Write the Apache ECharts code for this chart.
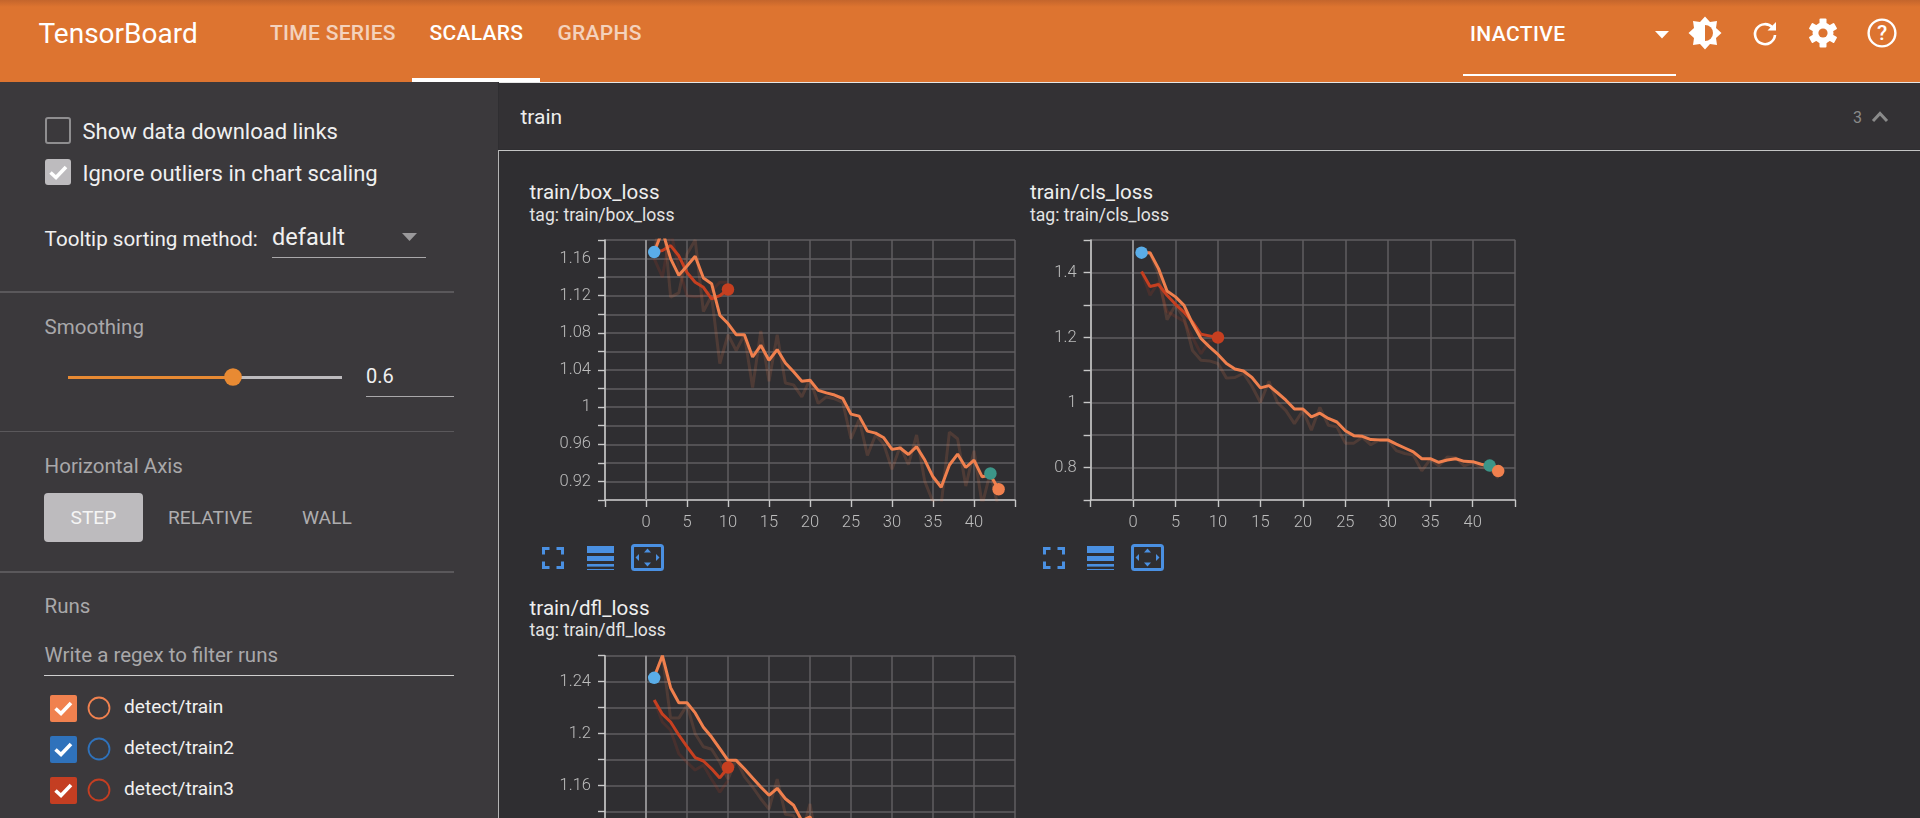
<!DOCTYPE html>
<html>
<head>
<meta charset="utf-8">
<title>TensorBoard</title>
<script src="https://cdn.jsdelivr.net/npm/echarts@6/dist/echarts.min.js"></script>
<style>
  html, body { margin: 0; width: 1920px; height: 818px; overflow: hidden; background: #2f2e31; font-family: Roboto, sans-serif; color: #fff; }
  .abs { position: absolute; white-space: nowrap; transform: translateY(-50%); }
  .box { position: absolute; }
  .box svg { display: block; }
  #header { position: absolute; left: 0; top: 0; width: 1920px; height: 82px; background: linear-gradient(#c4652c 0, #dd7430 7px); }
  #sidebar { position: absolute; left: 0; top: 82px; width: 498px; height: 736px; background: #3b393c; }
  #panelHead { position: absolute; left: 499px; top: 83px; width: 1421px; height: 66px; background: #333134; }
  #chart { position: absolute; left: 0; top: 0; width: 1920px; height: 818px; }
  .nav { font-size: 21px; font-weight: 500; letter-spacing: 0.3px; }
  .muted { color: #a9a8aa; font-size: 20.5px; }
  .sideText { color: #f0f0f0; font-size: 22px; }
  .chartTitle { font-size: 20.6px; color: #eeeeee; font-weight: 400; }
  .chartTag { font-size: 17.6px; color: #e4e4e4; }
</style>
</head>
<body>
<div id="header"></div>
<div id="sidebar"></div>
<div id="panelHead"></div>
<div id="chrome"></div>
<div id="chart"></div>

<script>
// x axis
const xTickLabels = [0, 5, 10, 15, 20, 25, 30, 35, 40];

// train/box_loss
const boxYLabels = [0.92, 0.96, 1, 1.04, 1.08, 1.12, 1.16];
const boxTrain = [1.167, 1.19, 1.16, 1.142, 1.152, 1.1625, 1.139, 1.133, 1.099, 1.09, 1.078, 1.078, 1.054, 1.0666, 1.0505, 1.062, 1.0476, 1.038, 1.028, 1.029, 1.018, 1.0154, 1.013, 1.0093, 0.9925, 0.9903, 0.9742, 0.972, 0.967, 0.9545, 0.956, 0.949, 0.9574, 0.943, 0.925, 0.9137, 0.9377, 0.9495, 0.935, 0.943, 0.925, 0.927, 0.9116];
const boxTrainRaw = [1.167, 1.215, 1.1185, 1.123, 1.165, 1.18, 1.103, 1.12, 1.047, 1.078, 1.061, 1.078, 1.021, 1.082, 1.028, 1.078, 1.026, 1.024, 1.011, 1.03, 1.004, 1.011, 1.009, 1.005, 0.966, 0.987, 0.948, 0.97, 0.96, 0.933, 0.958, 0.938, 0.97, 0.92, 0.898, 0.895, 0.973, 0.966, 0.915, 0.953, 0.895, 0.93, 0.89];
const boxTrain3 = [1.167, 1.1686, 1.174, 1.163, 1.145, 1.1346, 1.129, 1.1167, 1.12, 1.1267];
const boxTrain3Raw = [1.16, 1.14, 1.19, 1.15, 1.12, 1.119, 1.12, 1.125, 1.1346, 1.1346];
const boxTrain2End = 1.167;
const boxTealEnd = 0.9285;

// train/cls_loss
const clsYLabels = [0.8, 1, 1.2, 1.4];
const clsTrain = [1.461, 1.461, 1.412, 1.343, 1.325, 1.299, 1.243, 1.197, 1.171, 1.148, 1.12, 1.103, 1.097, 1.077, 1.045, 1.052, 1.03, 1.007, 0.98, 0.98, 0.956, 0.967, 0.951, 0.94, 0.913, 0.898, 0.896, 0.886, 0.885, 0.885, 0.872, 0.86, 0.848, 0.827, 0.827, 0.816, 0.823, 0.827, 0.819, 0.818, 0.81, 0.804, 0.789];
const clsTrainRaw = [1.461, 1.46, 1.395, 1.255, 1.3, 1.26, 1.16, 1.13, 1.128, 1.12, 1.075, 1.077, 1.09, 1.05, 1.0, 1.065, 1.0, 0.975, 0.935, 0.975, 0.915, 0.985, 0.93, 0.925, 0.875, 0.875, 0.893, 0.87, 0.885, 0.885, 0.852, 0.843, 0.838, 0.79, 0.825, 0.805, 0.832, 0.83, 0.805, 0.815, 0.8, 0.796, 0.768];
const clsTrain3 = [1.403, 1.357, 1.363, 1.33, 1.302, 1.278, 1.248, 1.21, 1.205, 1.2];
const clsTrain3Raw = [1.403, 1.33, 1.37, 1.28, 1.265, 1.25, 1.2, 1.15, 1.19, 1.19];
const clsTrain2End = 1.461;
const clsTealEnd = 0.806;

// train/dfl_loss (the page cuts this one off below step 20)
const dflYLabels = [1.08, 1.12, 1.16, 1.2, 1.24];
const dflTrain = [1.2436, 1.26, 1.2354, 1.2238, 1.2238, 1.216, 1.205, 1.1974, 1.1885, 1.1795, 1.1795, 1.173, 1.166, 1.159, 1.1526, 1.158, 1.15, 1.145, 1.133, 1.136, 1.124];
const dflTrainRaw = [1.2436, 1.26, 1.212, 1.212, 1.222, 1.2, 1.19, 1.188, 1.178, 1.165, 1.18, 1.167, 1.159, 1.15, 1.142, 1.165, 1.138, 1.137, 1.123, 1.146, 1.11];
const dflTrain3 = [1.226, 1.215, 1.209, 1.199, 1.19, 1.1816, 1.179, 1.173, 1.166, 1.174];
const dflTrain3Raw = [1.226, 1.209, 1.2026, 1.1846, 1.178, 1.172, 1.176, 1.165, 1.155, 1.164];
const dflTrain2End = 1.243;

// run colours
const colorTrain = '#f0804e';
const colorTrain2 = '#5aade8';
const colorTrain3 = '#c63f20';
const colorTeal = '#3c9588';
const gridColor = '#605e61';
const axisColor = '#c8c8c8';
const labelColor = '#bdbdbd';

// step numbers start at 1
function toPoints(values, firstStep) {
  return values.map((v, i) => [i + firstStep, v]);
}

function lineSeries(gridIndex, name, values, color, faint) {
  const last = values.length - 1;
  return {
    type: 'line',
    name: name,
    xAxisIndex: gridIndex,
    yAxisIndex: gridIndex,
    data: toPoints(values, 1),
    showAllSymbol: true,
    symbol: (v, params) => (!faint && params.dataIndex === last ? 'circle' : 'none'),
    symbolSize: 12.5,
    itemStyle: { color: color },
    lineStyle: { color: color, width: 3, opacity: faint ? 0.16 : 1 },
    animation: false,
    silent: true
  };
}

// a run that only shows its end marker
function endDot(gridIndex, name, step, value, color) {
  return {
    type: 'line',
    name: name,
    xAxisIndex: gridIndex,
    yAxisIndex: gridIndex,
    data: [[step, value]],
    showSymbol: true,
    symbol: 'circle',
    symbolSize: 12.5,
    itemStyle: { color: color },
    animation: false,
    silent: true
  };
}

// bright vertical line at step 0
function zeroLine(gridIndex) {
  return {
    type: 'line',
    xAxisIndex: gridIndex,
    yAxisIndex: gridIndex,
    data: [],
    animation: false,
    silent: true,
    markLine: {
      silent: true,
      symbol: 'none',
      animation: false,
      label: { show: false },
      lineStyle: { color: '#8f8e90', width: 2, type: 'solid' },
      data: [{ xAxis: 0 }]
    }
  };
}

function makeXAxis(gridIndex) {
  return {
    type: 'value',
    gridIndex: gridIndex,
    min: -5,
    max: 45,
    interval: 5,
    axisLine: { show: true, onZero: false, lineStyle: { color: axisColor, width: 1.6 } },
    axisTick: { show: true, length: 7, lineStyle: { color: axisColor, width: 1.4 } },
    splitLine: { show: true, lineStyle: { color: gridColor, width: 1.5 } },
    axisLabel: {
      color: labelColor,
      fontFamily: 'Roboto',
      fontWeight: 300,
      fontSize: 16.5,
      margin: 14,
      formatter: v => (xTickLabels.includes(v) ? String(v) : '')
    }
  };
}

function makeYAxis(gridIndex, min, max, interval, labels) {
  return {
    type: 'value',
    gridIndex: gridIndex,
    min: min,
    max: max,
    interval: interval,
    axisLine: { show: true, onZero: false, lineStyle: { color: axisColor, width: 1.6 } },
    axisTick: { show: true, length: 7, lineStyle: { color: axisColor, width: 1.4 } },
    splitLine: { show: true, lineStyle: { color: gridColor, width: 1.5 } },
    axisLabel: {
      color: labelColor,
      fontFamily: 'Roboto',
      fontWeight: 300,
      fontSize: 16.5,
      margin: 14,
      formatter: v => {
        const hit = labels.find(l => Math.abs(l - v) < 1e-6);
        return hit === undefined ? '' : String(hit);
      }
    }
  };
}

const chart = echarts.init(document.getElementById('chart'));
chart.setOption({
  backgroundColor: 'transparent',
  grid: [
    { left: 605, top: 240, width: 410, height: 260, outerBoundsMode: 'none' },
    { left: 1090.6, top: 240, width: 424.6, height: 260, outerBoundsMode: 'none' },
    { left: 605, top: 655.7, width: 410, height: 260, outerBoundsMode: 'none' }
  ],
  xAxis: [makeXAxis(0), makeXAxis(1), makeXAxis(2)],
  yAxis: [
    makeYAxis(0, 0.9, 1.18, 0.02, boxYLabels),
    makeYAxis(1, 0.7, 1.5, 0.1, clsYLabels),
    makeYAxis(2, 1.06, 1.26, 0.02, dflYLabels)
  ],
  series: [
    zeroLine(0),
    zeroLine(1),
    zeroLine(2),
    endDot(0, 'detect/train2', 1, boxTrain2End, colorTrain2),
    endDot(0, 'teal', 42, boxTealEnd, colorTeal),
    lineSeries(0, 'detect/train3 raw', boxTrain3Raw, colorTrain3, true),
    lineSeries(0, 'detect/train raw', boxTrainRaw, colorTrain, true),
    lineSeries(0, 'detect/train3', boxTrain3, colorTrain3, false),
    lineSeries(0, 'detect/train', boxTrain, colorTrain, false),
    endDot(1, 'detect/train2', 1, clsTrain2End, colorTrain2),
    endDot(1, 'teal', 42, clsTealEnd, colorTeal),
    lineSeries(1, 'detect/train3 raw', clsTrain3Raw, colorTrain3, true),
    lineSeries(1, 'detect/train raw', clsTrainRaw, colorTrain, true),
    lineSeries(1, 'detect/train3', clsTrain3, colorTrain3, false),
    lineSeries(1, 'detect/train', clsTrain, colorTrain, false),
    endDot(2, 'detect/train2', 1, dflTrain2End, colorTrain2),
    lineSeries(2, 'detect/train3 raw', dflTrain3Raw, colorTrain3, true),
    lineSeries(2, 'detect/train raw', dflTrainRaw, colorTrain, true),
    lineSeries(2, 'detect/train3', dflTrain3, colorTrain3, false),
    lineSeries(2, 'detect/train', dflTrain, colorTrain, false)
  ]
});

// page chrome around the chart
const chrome = document.getElementById('chrome');

function text(x, y, str, cls, extra) {
  const el = document.createElement('div');
  el.className = 'abs ' + (cls || '');
  el.style.cssText = `left:${x}px;top:${y}px;${extra || ''}`;
  el.textContent = str;
  chrome.appendChild(el);
}

function rect(x, y, w, h, css) {
  const el = document.createElement('div');
  el.className = 'box';
  el.style.cssText = `left:${x}px;top:${y}px;width:${w}px;height:${h}px;${css}`;
  chrome.appendChild(el);
}

function svg(x, y, w, h, inner) {
  const el = document.createElement('div');
  el.className = 'box';
  el.style.cssText = `left:${x}px;top:${y}px;width:${w}px;height:${h}px;`;
  el.innerHTML = `<svg xmlns="http://www.w3.org/2000/svg" width="${w}" height="${h}" viewBox="0 0 ${w} ${h}">${inner}</svg>`;
  chrome.appendChild(el);
}

const checkMark = '<path d="M5.5 13.5 L11 18.5 L21 8" fill="none" stroke="#fff" stroke-width="3.6"/>';

// header
text(38.5, 33, 'TensorBoard', '', 'font-size:28px;font-weight:400;');
text(270, 33, 'TIME SERIES', 'nav', 'opacity:.68;');
text(429.5, 33, 'SCALARS', 'nav');
text(557.5, 33, 'GRAPHS', 'nav', 'opacity:.68;');
rect(411.6, 78, 128, 3.5, 'background:#fff;');
rect(499, 81.5, 1421, 1.5, 'background:#e6e6e6;');
text(1470, 34, 'INACTIVE', 'nav', 'letter-spacing:0.4px;');
rect(1463.3, 74.2, 212.4, 1.8, 'background:#fff;');
svg(1655, 31, 14, 8, '<path d="M0 0 H14 L7 7.5 Z" fill="#fff"/>');

// brightness
svg(1688, 16, 34, 34, '<path d="M17 0.5 L22 6 L29 5 L28 12 L33.5 17 L28 22 L29 29 L22 28 L17 33.5 L12 28 L5 29 L6 22 L0.5 17 L6 12 L5 5 L12 6 Z" fill="#fff"/><path d="M17 9 A8 8 0 0 1 17 25 Z" fill="#dd7430"/>');
// refresh
svg(1751, 20, 28, 28, '<path d="M21.5 7.5 A10 10 0 1 0 24 15" fill="none" stroke="#fff" stroke-width="2.6"/><path d="M25 2 V10.5 H16.5 Z" fill="#fff"/>');
// settings
svg(1808, 18, 30, 30, '<g fill="#fff"><circle cx="15" cy="15" r="10.5"/><rect x="11.5" y="0.5" width="7" height="29" rx="1"/><rect x="11.5" y="0.5" width="7" height="29" rx="1" transform="rotate(60 15 15)"/><rect x="11.5" y="0.5" width="7" height="29" rx="1" transform="rotate(120 15 15)"/></g><circle cx="15" cy="15" r="4.6" fill="#dd7430"/>');
// help
svg(1867, 18, 30, 30, '<circle cx="15" cy="15" r="13.4" fill="none" stroke="#fff" stroke-width="2.4"/>');
text(1882, 33, '?', '', 'font-size:21px;font-weight:500;transform:translate(-50%,-50%);');

// sidebar
rect(44.5, 117, 26, 27, 'box-sizing:border-box;border:2.5px solid #8f8e90;border-radius:3px;');
text(82.5, 131, 'Show data download links', 'sideText');
svg(44.5, 159, 26, 26, '<rect width="26" height="26" rx="3" fill="#bdbbbe"/>' + checkMark);
text(82.5, 173, 'Ignore outliers in chart scaling', 'sideText');
text(44.6, 239, 'Tooltip sorting method:', '', 'font-size:20.6px;color:#f0f0f0;');
text(272, 237, 'default', '', 'font-size:23.5px;color:#f0f0f0;');
svg(402, 233, 15, 8, '<path d="M0 0 H15 L7.5 8 Z" fill="#9a999b"/>');
rect(272, 256.5, 154.3, 1.5, 'background:#a9a8aa;');
rect(0, 291, 454, 1.5, 'background:#5a585b;');
text(44.6, 327, 'Smoothing', 'muted');
rect(68, 375.5, 165, 3, 'background:#e88a33;');
rect(233, 375.5, 109.4, 3, 'background:#bdbbbe;');
svg(223.5, 368, 18, 18, '<circle cx="9" cy="9" r="8.8" fill="#e88a33"/>');
text(366, 375.5, '0.6', '', 'font-size:20px;color:#f0f0f0;');
rect(366, 395.5, 88, 1.5, 'background:#a9a8aa;');
rect(0, 430.5, 454, 1.5, 'background:#5a585b;');
text(44.6, 465.7, 'Horizontal Axis', 'muted');
rect(44, 492.7, 98.7, 49, 'background:#bdbbbe;border-radius:4px;');
text(70.5, 517, 'STEP', '', 'font-size:19.2px;color:#f5f5f5;');
text(168, 517, 'RELATIVE', '', 'font-size:19.2px;color:#aeadaf;');
text(302, 517, 'WALL', '', 'font-size:19.2px;color:#aeadaf;');
rect(0, 571, 454, 1.5, 'background:#5a585b;');
text(44.6, 606, 'Runs', 'muted');
text(44.6, 655, 'Write a regex to filter runs', 'muted');
rect(44, 674.5, 410, 1.5, 'background:#cfcfcf;');

// run list
const runNames = ['detect/train', 'detect/train2', 'detect/train3'];
const runColors = ['#f0814f', '#2f72bb', '#c43e22'];
runNames.forEach((name, i) => {
  const y = 708 + i * 41.2;
  svg(50, y - 13.3, 27, 27, `<rect width="27" height="27" rx="2" fill="${runColors[i]}"/>` + checkMark);
  svg(86.5, y - 12, 24, 24, `<circle cx="12" cy="12" r="10.5" fill="none" stroke="${runColors[i]}" stroke-width="1.8"/>`);
  text(124, y - 2, name, '', 'font-size:19.1px;color:#f0f0f0;');
});

// panel header
text(520.5, 117, 'train', '', 'font-size:21px;color:#eeeeee;');
text(1853, 117, '3', '', 'font-size:16px;color:#8a8a8a;');
svg(1871, 110, 18, 13, '<path d="M2 11 L9 3.5 L16 11" fill="none" stroke="#8a8a8a" stroke-width="3"/>');
rect(499, 149.5, 1421, 1.6, 'background:#c4c4c4;');
rect(497.7, 149.5, 1.5, 669, 'background:#b4b4b4;');

// chart cards
text(529.6, 192, 'train/box_loss', 'chartTitle');
text(529.6, 214.5, 'tag: train/box_loss', 'chartTag');
text(1030, 192, 'train/cls_loss', 'chartTitle');
text(1030, 214.5, 'tag: train/cls_loss', 'chartTag');
text(529.6, 607.5, 'train/dfl_loss', 'chartTitle');
text(529.6, 630, 'tag: train/dfl_loss', 'chartTag');

// card toolbars
function toolbar(x1, x2, x3, y) {
  const blue = '#4a90e2';
  svg(x1, y + 3, 22, 22, `<path d="M1.5 7.5 V1.5 H7.5 M14.5 1.5 H20.5 V7.5 M20.5 14.5 V20.5 H14.5 M7.5 20.5 H1.5 V14.5" fill="none" stroke="${blue}" stroke-width="3"/>`);
  svg(x2, y + 2, 27, 24, `<g fill="${blue}"><rect width="27" height="7"/><rect y="10" width="27" height="5"/><rect y="18" width="27" height="2.6"/><rect y="23" width="27" height="1"/></g>`);
  svg(x3, y, 33, 27, `<rect x="1.5" y="1.5" width="30" height="24" rx="2" fill="none" stroke="${blue}" stroke-width="3"/><g fill="${blue}"><path d="M16.5 4.5 L20 8.5 H13 Z"/><path d="M16.5 22.5 L20 18.5 H13 Z"/><path d="M4.5 13.5 L8 10 V17 Z"/><path d="M28.5 13.5 L25 10 V17 Z"/></g>`);
}
toolbar(542.4, 586.8, 631, 544);
toolbar(1043, 1087, 1131, 544);
</script>
</body>
</html>
